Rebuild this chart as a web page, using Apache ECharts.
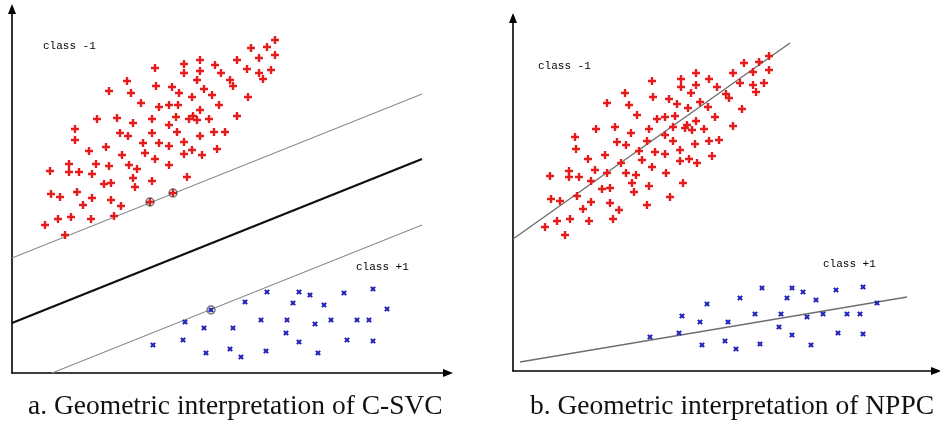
<!DOCTYPE html>
<html>
<head>
<meta charset="utf-8">
<script src="https://cdn.jsdelivr.net/npm/echarts@6/dist/echarts.min.js"></script>
<style>html,body{margin:0;padding:0;background:#fff}#c{width:940px;height:426px}</style>
</head>
<body>
<div id="c"></div>
<script>
// ---- Panel a (C-SVC) ----
var leftRed = [[263,333],[255,326],[239,325],[263,318],[247,315],[225,313],[188,313],[172,309],[203,308],[143,305],[235,304],[259,303],[247,300],[188,302],[172,300],[209,300],[251,294],[218,293],[185,293],[115,292],[221,287],[160,286],[144,287],[97,282],[119,280],[192,284],[167,280],[180,276],[200,278],[236,276],[129,270],[147,266],[157,268],[166,268],[207,268],[188,263],[85,254],[105,255],[164,256],[181,257],[177,254],[185,253],[197,254],[225,257],[121,250],[140,254],[157,248],[63,244],[108,240],[116,237],[140,240],[165,241],[202,241],[213,241],[188,237],[63,233],[131,230],[147,230],[172,231],[94,226],[77,222],[157,227],[133,220],[180,223],[205,224],[172,219],[190,218],[110,218],[143,214],[38,202],[57,209],[57,201],[67,201],[84,209],[97,207],[117,208],[125,204],[157,208],[80,199],[121,195],[99,190],[92,189],[140,192],[175,196],[123,186],[39,179],[48,176],[65,181],[80,175],[99,173],[71,168],[109,167],[33,148],[46,154],[59,156],[79,154],[102,157],[53,138]];
var leftRedSV = [[138,171],[161,180]];
var leftBlue = [[255,81],[287,81],[298,78],[332,80],[361,84],[233,71],[281,70],[312,68],[375,64],[173,51],[192,45],[221,45],[249,53],[275,53],[303,49],[319,53],[345,53],[357,53],[274,40],[171,33],[287,31],[335,33],[361,32],[141,28],[194,20],[218,24],[229,16],[254,22],[306,20]];
var leftBlueSV = [[199,63]];
var leftUpperLine = [[0,115],[410,279]];
var leftMiddleLine = [[0,50],[410,214]];
var leftLowerLine = [[40,0],[410,148]];

// ---- Panel b (NPPC) ----
var rightRed = [[256,315],[246,309],[231,308],[256,301],[240,299],[220,298],[183,298],[168,292],[196,292],[139,290],[227,288],[183,286],[168,284],[204,284],[240,286],[251,288],[243,279],[213,277],[216,273],[178,278],[112,278],[94,268],[116,266],[140,274],[156,272],[164,267],[187,269],[195,264],[175,263],[229,262],[124,256],[144,252],[152,254],[162,255],[202,254],[183,250],[220,245],[83,242],[102,244],[136,242],[160,244],[174,246],[172,243],[179,241],[191,242],[118,238],[62,234],[104,229],[113,226],[134,230],[152,236],[160,230],[182,227],[196,230],[206,231],[63,222],[126,220],[142,219],[152,217],[167,221],[167,210],[176,212],[184,208],[199,215],[75,212],[92,216],[108,208],[129,211],[139,204],[37,195],[56,200],[56,194],[66,194],[82,201],[94,198],[113,198],[123,196],[153,198],[78,190],[119,188],[89,182],[97,183],[136,185],[170,188],[121,179],[38,172],[47,170],[64,175],[78,169],[97,168],[157,174],[70,162],[106,161],[134,166],[32,144],[44,150],[57,152],[76,150],[100,152],[52,136]];
var rightBlue = [[249,83],[279,83],[290,79],[323,81],[350,84],[227,73],[274,73],[303,71],[364,68],[194,67],[169,55],[187,49],[215,49],[242,57],[268,57],[294,54],[310,57],[334,57],[347,57],[266,44],[166,38],[137,34],[279,36],[325,38],[350,37],[189,26],[212,30],[223,22],[247,27],[298,26]];
var rightRedLine = [[0,132],[277,328]];
var rightBlueLine = [[7,9],[394,74]];

var classLabels = ['class -1', 'class +1'];
var captions = ['a. Geometric interpretation of C-SVC', 'b. Geometric interpretation of NPPC'];

var RED = '#e41c1c', BLUE = '#2424bc';
var PLUS = 'path://M2.8,0H5.2V2.8H8V5.2H5.2V8H2.8V5.2H0V2.8H2.8Z';
var CROSS = 'path://M2.6,0H5.4V2.6H8V5.4H5.4V8H2.6V5.4H0V2.6H2.6Z';

function axisX(g, max) {
  return {gridIndex: g, type: 'value', min: 0, max: max,
    axisLine: {show: true, onZero: false, symbol: ['none', 'triangle'], symbolSize: [8, 10],
      lineStyle: {color: '#000', width: 1.6}},
    axisTick: {show: false}, axisLabel: {show: false}, splitLine: {show: false}};
}
function axisY(g, max) {
  return {gridIndex: g, type: 'value', min: 0, max: max,
    axisLine: {show: true, onZero: false, symbol: ['none', 'triangle'], symbolSize: [8, 10],
      lineStyle: {color: '#000', width: 1.6}},
    axisTick: {show: false}, axisLabel: {show: false}, splitLine: {show: false}};
}
function lineS(g, data, color, width) {
  return {type: 'line', xAxisIndex: g, yAxisIndex: g, data: data, symbol: 'none', silent: true,
    lineStyle: {color: color, width: width}, z: 1, clip: false};
}
function pts(g, data, color, sym, size, rot) {
  return {type: 'scatter', xAxisIndex: g, yAxisIndex: g, data: data, symbol: sym, symbolSize: size,
    symbolRotate: rot || 0, itemStyle: {color: color, opacity: 1}, silent: true, z: 3};
}
function svCircle(g, data) {
  return {type: 'scatter', xAxisIndex: g, yAxisIndex: g, data: data, symbol: 'circle', symbolSize: 8,
    itemStyle: {color: 'rgba(0,0,0,0)', borderColor: '#4a4a4a', borderWidth: 1.3}, silent: true, z: 4};
}

var chart = echarts.init(document.getElementById('c'), null, {renderer: 'canvas'});
var labelFont = 'Liberation Mono';
chart.setOption({
  animation: false,
  backgroundColor: '#fff',
  grid: [
    {left: 12, top: 9, width: 436, height: 364},
    {left: 513, top: 18, width: 423, height: 353}
  ],
  xAxis: [axisX(0, 436), axisX(1, 423)],
  yAxis: [axisY(0, 364), axisY(1, 353)],
  series: [
    lineS(0, leftUpperLine, '#8a8a8a', 1.1),
    lineS(0, leftMiddleLine, '#111', 2.2),
    lineS(0, leftLowerLine, '#8a8a8a', 1.1),
    pts(0, leftRed, RED, PLUS, 8),
    pts(0, leftRedSV, RED, PLUS, 8),
    pts(0, leftBlue, BLUE, CROSS, 6, 45),
    pts(0, leftBlueSV, BLUE, CROSS, 6, 45),
    svCircle(0, leftRedSV),
    svCircle(0, leftBlueSV),
    lineS(1, rightRedLine, '#6e6e6e', 1.4),
    lineS(1, rightBlueLine, '#6e6e6e', 1.4),
    pts(1, rightRed, RED, PLUS, 8),
    pts(1, rightBlue, BLUE, CROSS, 6, 45)
  ],
  graphic: [
    {type: 'text', left: 43, top: 41, style: {text: classLabels[0], font: '11px "' + labelFont + '"', fill: '#000'}},
    {type: 'text', left: 356, top: 262, style: {text: classLabels[1], font: '11px "' + labelFont + '"', fill: '#000'}},
    {type: 'text', left: 538, top: 61, style: {text: classLabels[0], font: '11px "' + labelFont + '"', fill: '#000'}},
    {type: 'text', left: 823, top: 259, style: {text: classLabels[1], font: '11px "' + labelFont + '"', fill: '#000'}},
    {type: 'text', left: 28, top: 393, style: {text: captions[0], font: '27.5px "Liberation Serif"', fill: '#111'}},
    {type: 'text', left: 530, top: 393, style: {text: captions[1], font: '27.5px "Liberation Serif"', fill: '#111'}}
  ]
});
</script>
</body>
</html>
